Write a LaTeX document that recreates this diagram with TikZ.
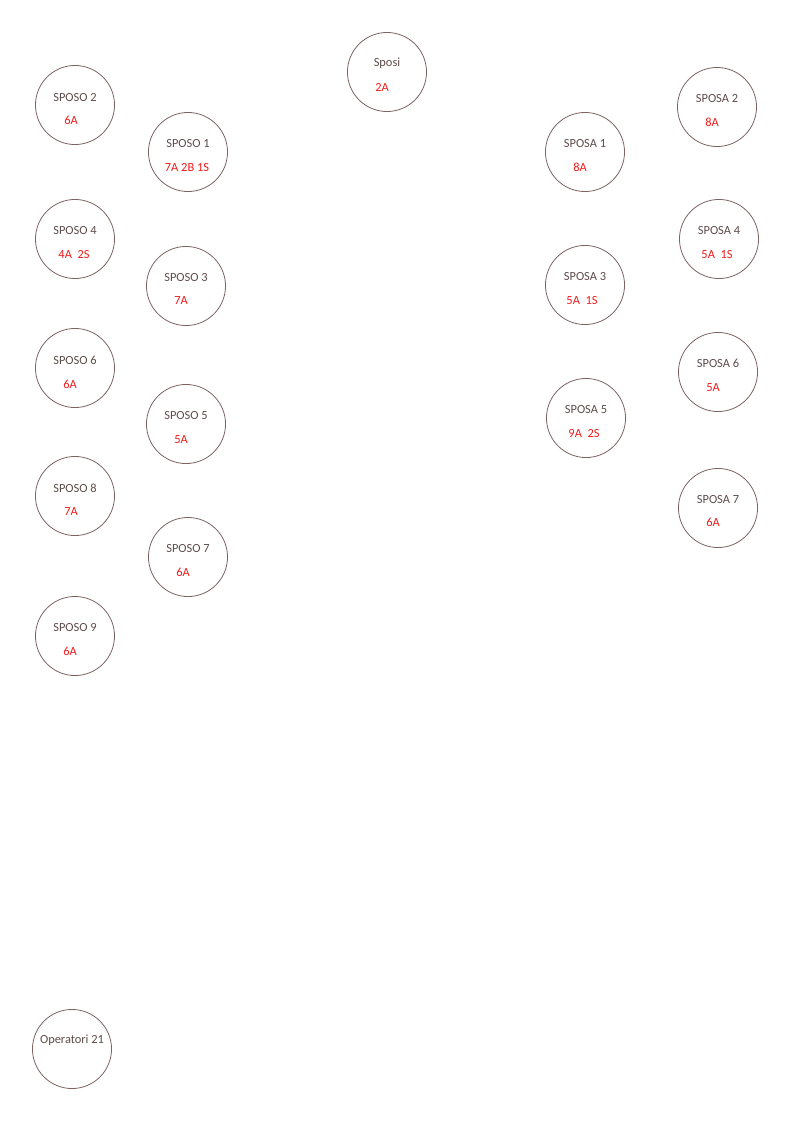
\documentclass[tikz,border=0pt]{standalone}
\usepackage{fontspec}
\setmainfont{Carlito}
\usepackage{tikz}
\definecolor{ringbrown}{HTML}{7C6262}
\definecolor{namegrey}{HTML}{5E4B4B}
\definecolor{seatred}{HTML}{F21B1B}

\begin{document}
\begin{tikzpicture}
    [x=0.75pt,y=-0.75pt,
    guest/.style={circle,draw=ringbrown,line width=0.6pt,
    inner sep=0pt,minimum size=59.3pt},
    title/.style={text=namegrey,font=\fontsize{9.3}{11}\selectfont,inner sep=0pt,yshift=-0.8pt},
    seats/.style={text=seatred,font=\fontsize{9.3}{11}\selectfont,inner sep=0pt,yshift=-0.8pt}]
    \useasboundingbox (0,0) rectangle (792,1121);

    % centre
    \node[guest] (sposi) at (387,72) {};
    \node[title] (sposi title) at (387,62) {Sposi};
    \node[seats] (sposi seats) at (382,86) {2A};

    % groom side, outer column
    \node[guest] (sposo2) at (75,105) {};
    \node[title] (sposo2 title) at (75,96) {SPOSO 2};
    \node[seats] (sposo2 seats) at (71,119) {6A};
    \node[guest] (sposo4) at (75,239) {};
    \node[title] (sposo4 title) at (75,229) {SPOSO 4};
    \node[seats] (sposo4 seats) at (74,253) {4A\ \ 2S};
    \node[guest] (sposo6) at (75,368) {};
    \node[title] (sposo6 title) at (75,359) {SPOSO 6};
    \node[seats] (sposo6 seats) at (70,383) {6A};
    \node[guest] (sposo8) at (75,496) {};
    \node[title] (sposo8 title) at (75,487) {SPOSO 8};
    \node[seats] (sposo8 seats) at (71,510) {7A};
    \node[guest] (sposo9) at (75,636) {};
    \node[title] (sposo9 title) at (75,626) {SPOSO 9};
    \node[seats] (sposo9 seats) at (70,650) {6A};

    % groom side, inner column
    \node[guest] (sposo1) at (188,152) {};
    \node[title] (sposo1 title) at (188,142) {SPOSO 1};
    \node[seats] (sposo1 seats) at (187,166) {7A 2B 1S};
    \node[guest] (sposo3) at (186,286) {};
    \node[title] (sposo3 title) at (186,276) {SPOSO 3};
    \node[seats] (sposo3 seats) at (181,299) {7A};
    \node[guest] (sposo5) at (186,424) {};
    \node[title] (sposo5 title) at (186,414) {SPOSO 5};
    \node[seats] (sposo5 seats) at (181,438) {5A};
    \node[guest] (sposo7) at (188,557) {};
    \node[title] (sposo7 title) at (188,547) {SPOSO 7};
    \node[seats] (sposo7 seats) at (183,571) {6A};

    % bride side, inner column
    \node[guest] (sposa1) at (585,152) {};
    \node[title] (sposa1 title) at (585,142) {SPOSA 1};
    \node[seats] (sposa1 seats) at (580,166) {8A};
    \node[guest] (sposa3) at (585,285) {};
    \node[title] (sposa3 title) at (585,275) {SPOSA 3};
    \node[seats] (sposa3 seats) at (582,299) {5A\ \ 1S};
    \node[guest] (sposa5) at (586,418) {};
    \node[title] (sposa5 title) at (586,408) {SPOSA 5};
    \node[seats] (sposa5 seats) at (584,432) {9A\ \ 2S};

    % bride side, outer column
    \node[guest] (sposa2) at (717,107) {};
    \node[title] (sposa2 title) at (717,97) {SPOSA 2};
    \node[seats] (sposa2 seats) at (712,121) {8A};
    \node[guest] (sposa4) at (719,239) {};
    \node[title] (sposa4 title) at (719,229) {SPOSA 4};
    \node[seats] (sposa4 seats) at (717,253) {5A\ \ 1S};
    \node[guest] (sposa6) at (718,372) {};
    \node[title] (sposa6 title) at (718,362) {SPOSA 6};
    \node[seats] (sposa6 seats) at (713,386) {5A};
    \node[guest] (sposa7) at (718,508) {};
    \node[title] (sposa7 title) at (718,498) {SPOSA 7};
    \node[seats] (sposa7 seats) at (713,521) {6A};

    % staff
    \node[guest] (operatori) at (72,1049) {};
    \node[title] (operatori title) at (72,1039) {Operatori 21};
\end{tikzpicture}
\end{document}
